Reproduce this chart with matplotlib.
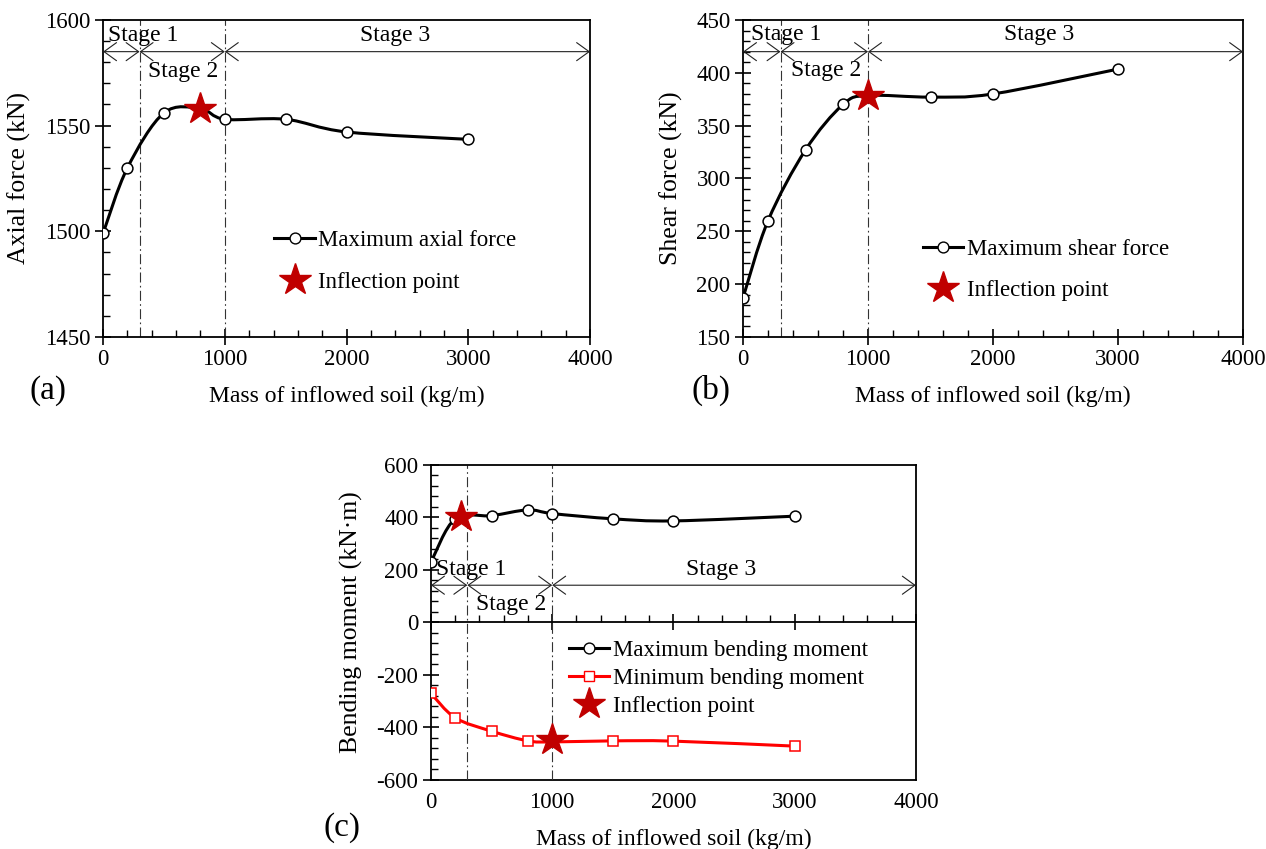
import numpy as np
import matplotlib
matplotlib.use('Agg')
import matplotlib.pyplot as plt
from matplotlib.path import Path
from matplotlib.patches import PathPatch
from matplotlib.lines import Line2D
from matplotlib.ticker import MultipleLocator

plt.rcParams['font.family'] = ['Liberation Serif', 'DejaVu Serif']
plt.rcParams['axes.unicode_minus'] = False

# data
mass = [0, 200, 500, 800, 1000, 1500, 2000, 3000]
axial_max = [1499, 1530, 1556, 1558, 1553, 1553, 1547, 1543.5]
shear_max = [187, 260, 327, 370, 378.5, 377, 380, 403.5]
moment_max = [230, 395, 407, 429, 415, 395, 387, 405]
moment_min = [-270, -363, -414, -451, -455, -451, -452, -471]

axial_star = (800, 1558)
shear_star = (1000, 378)
moment_max_star = (250, 402)
moment_min_star = (1000, -446)

stage_edges = [0, 300, 1000, 4000]
stage_names = ['Stage 1', 'Stage 2', 'Stage 3']

FS = 16.5
YFS = 18.5
STAR_C = '#C00000'


def smooth_path(x, y):
    # excel-like smoothed line (catmull-rom -> bezier)
    pts = np.column_stack([x, y]).astype(float)
    n = len(pts)
    verts = [pts[0]]
    codes = [Path.MOVETO]
    for i in range(n - 1):
        p0 = pts[i - 1] if i > 0 else pts[i]
        p1, p2 = pts[i], pts[i + 1]
        p3 = pts[i + 2] if i + 2 < n else pts[i + 1]
        verts += [p1 + (p2 - p0) / 6, p2 - (p3 - p1) / 6, p2]
        codes += [Path.CURVE4] * 3
    return Path(verts, codes)


def draw_series(ax, x, y, color, marker):
    ax.add_patch(PathPatch(smooth_path(x, y), fc='none', ec=color, lw=2.2, zorder=3))
    ax.plot(x, y, ls='none', marker=marker, ms=7.8, mfc='white', mec=color, mew=1.1, zorder=4)


def draw_star(ax, pt):
    ax.plot([pt[0]], [pt[1]], ls='none', marker='*', ms=24, color=STAR_C, zorder=5)


def style_axes(ax, ymin, ymax, ymaj, ymin_step):
    ax.set_xlim(0, 4000)
    ax.set_ylim(ymin, ymax)
    ax.xaxis.set_major_locator(MultipleLocator(1000))
    ax.xaxis.set_minor_locator(MultipleLocator(200))
    ax.yaxis.set_major_locator(MultipleLocator(ymaj))
    ax.yaxis.set_minor_locator(MultipleLocator(ymin_step))
    ax.tick_params(which='major', direction='inout', length=11, width=1.2, labelsize=FS,
                   top=False, right=False)
    ax.tick_params(which='minor', direction='in', length=5, width=1.0, top=False, right=False)
    for s in ax.spines.values():
        s.set_linewidth(1.3)


def draw_stages(ax, y_arrow, y_upper, y_lower, x_text):
    for xv in stage_edges[1:3]:
        ax.axvline(xv, color='#333333', lw=0.8, ls=(0, (9, 3, 1.5, 3)), zorder=2)
    for i in range(3):
        ax.annotate('', xy=(stage_edges[i + 1], y_arrow), xytext=(stage_edges[i], y_arrow),
                    arrowprops=dict(arrowstyle='<->,head_length=0.9,head_width=0.65',
                                    color='#222222', lw=0.8, shrinkA=0, shrinkB=0))
    ys = [y_upper, y_lower, y_upper]
    for name, xt, yt in zip(stage_names, x_text, ys):
        ax.text(xt, yt, name, ha='center', va='center', fontsize=FS + 0.5)


fig = plt.figure(figsize=(12.66, 8.49), dpi=100)

# (a) axial force
ax1 = fig.add_axes([0.0814, 0.6031, 0.3847, 0.3734])
style_axes(ax1, 1450, 1600, 50, 10)
draw_stages(ax1, 1585, 1592.8, 1575.5, [330, 660, 2400])
draw_series(ax1, mass, axial_max, 'black', 'o')
draw_star(ax1, axial_star)
ax1.set_xlabel('Mass of inflowed soil (kg/m)', fontsize=FS + 0.5, labelpad=11)
ax1.set_ylabel('Axial force (kN)', fontsize=YFS)
ax1.yaxis.set_label_coords(-0.148, 0.5)
h1 = [Line2D([], [], color='black', lw=2.2, marker='o', ms=7.8, mfc='white', mec='black'),
      Line2D([], [], ls='none', marker='*', ms=24, color=STAR_C)]
ax1.legend(h1, ['Maximum axial force', 'Inflection point'], loc='upper left',
           bbox_to_anchor=(0.352, 0.338), frameon=False, fontsize=FS, handlelength=1.75,
           handletextpad=0.15, labelspacing=0.9, borderpad=0, borderaxespad=0)
fig.text(0.038, 0.54, '(a)', fontsize=24, ha='center', va='center')

# (b) shear force
ax2 = fig.add_axes([0.5869, 0.6031, 0.395, 0.3734])
style_axes(ax2, 150, 450, 50, 10)
draw_stages(ax2, 420, 436, 402, [345, 667, 2370])
draw_series(ax2, mass, shear_max, 'black', 'o')
draw_star(ax2, shear_star)
ax2.set_xlabel('Mass of inflowed soil (kg/m)', fontsize=FS + 0.5, labelpad=11)
ax2.set_ylabel('Shear force (kN)', fontsize=YFS)
ax2.yaxis.set_label_coords(-0.12, 0.5)
ax2.legend(h1, ['Maximum shear force', 'Inflection point'], loc='upper left',
           bbox_to_anchor=(0.36, 0.31), frameon=False, fontsize=FS, handlelength=1.75,
           handletextpad=0.15, labelspacing=0.9, borderpad=0, borderaxespad=0)
fig.text(0.562, 0.54, '(b)', fontsize=24, ha='center', va='center')

# (c) bending moment
ax3 = fig.add_axes([0.3404, 0.0813, 0.383, 0.371])
style_axes(ax3, -600, 600, 200, 40)
ax3.spines['bottom'].set_position(('data', 0))
ax3.tick_params(axis='x', labelbottom=False)
sec = ax3.secondary_xaxis('bottom')
sec.set_xticks([0, 1000, 2000, 3000, 4000])
sec.tick_params(length=0, labelsize=FS, pad=9)
sec.spines['bottom'].set_linewidth(1.3)
sec.set_xlabel('Mass of inflowed soil (kg/m)', fontsize=FS + 0.5, labelpad=11)
draw_stages(ax3, 142, 200, 67, [336, 662, 2390])
draw_series(ax3, mass, moment_max, 'black', 'o')
draw_series(ax3, mass, moment_min, 'red', 's')
draw_star(ax3, moment_max_star)
draw_star(ax3, moment_min_star)
ax3.set_ylabel('Bending moment (kN\u00b7m)', fontsize=YFS)
ax3.yaxis.set_label_coords(-0.14, 0.5)
h3 = [Line2D([], [], color='black', lw=2.2, marker='o', ms=7.8, mfc='white', mec='black'),
      Line2D([], [], color='red', lw=2.2, marker='s', ms=7.8, mfc='white', mec='red'),
      Line2D([], [], ls='none', marker='*', ms=24, color=STAR_C)]
ax3.legend(h3, ['Maximum bending moment', 'Minimum bending moment', 'Inflection point'],
           loc='upper left', bbox_to_anchor=(0.285, 0.443), frameon=False, fontsize=FS,
           handlelength=1.75, handletextpad=0.15, labelspacing=0.3, borderpad=0,
           borderaxespad=0)
fig.text(0.27, 0.025, '(c)', fontsize=24, ha='center', va='center')

fig.savefig('out.png', dpi=100)
